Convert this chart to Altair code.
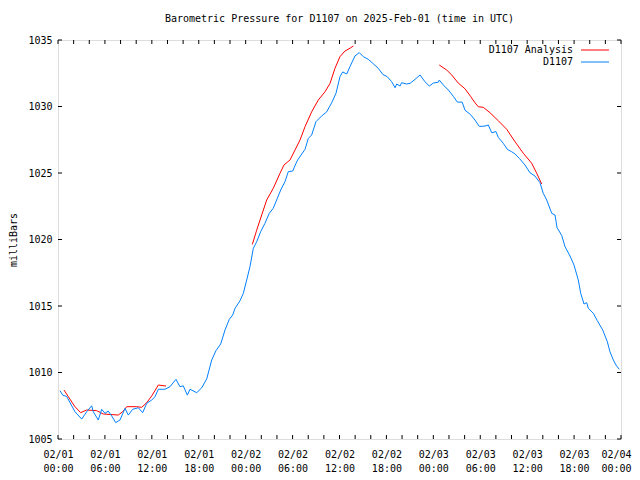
import altair as alt
import pandas as pd

# ---- data (hours since 2025-02-01 00:00 UTC, pressure in mb) ----
obs_hours = [0.26, 0.60, 1.11, 2.17, 3.03, 3.67, 4.31, 4.51, 5.15, 5.59, 6.01, 6.43, 6.87, 7.38, 7.93,
             8.57, 8.99, 9.55, 10.27, 10.83, 11.34, 11.98, 12.41, 12.83, 13.68, 14.32, 15.09, 15.60,
             16.02, 16.54, 16.88, 17.74, 18.38, 19.02, 19.66, 20.21, 20.81, 21.36, 21.91, 22.34,
             22.64, 23.28, 23.70, 24.13, 24.55, 24.98, 25.41, 25.92, 26.47, 27.02, 27.53, 28.05,
             28.48, 29.03, 29.45, 30.02, 30.44, 30.65, 31.59, 32.01, 32.44, 32.99, 33.72, 34.36,
             35.00, 35.55, 36.06, 36.41, 36.92, 37.34, 37.98, 38.53, 39.04, 39.68, 40.25, 40.96,
             41.53, 42.11, 42.68, 43.10, 43.32, 43.74, 43.95, 44.59, 45.02, 45.66, 46.30, 46.93,
             47.48, 48.00, 48.64, 48.76, 49.28, 49.92, 50.55, 51.07, 51.69, 52.05, 52.75, 53.33,
             53.88, 54.61, 55.03, 55.47, 56.01, 56.31, 56.95, 57.46, 58.02, 58.45, 59.00, 59.72,
             60.36, 61.00, 61.64, 62.06, 62.50, 63.14, 63.56, 63.82, 64.42, 64.84, 65.48, 65.99,
             66.54, 66.85, 67.27, 67.61, 67.82, 68.46, 68.97, 69.66, 70.25, 70.59, 71.02, 71.36,
             71.78]
obs_mb = [1008.63, 1008.30, 1008.20, 1007.05, 1006.50, 1007.05, 1007.50, 1007.05, 1006.43, 1007.23,
          1006.93, 1007.10, 1006.73, 1006.23, 1006.43, 1007.30, 1006.80, 1007.23, 1007.35, 1006.98,
          1007.68, 1007.93, 1008.18, 1008.74, 1008.74, 1008.93, 1009.49, 1008.93, 1009.00, 1008.30,
          1008.74, 1008.48, 1008.85, 1009.52, 1010.94, 1011.65, 1012.15, 1013.20, 1014.00, 1014.32,
          1014.82, 1015.40, 1015.95, 1016.95, 1017.95, 1019.34, 1019.83, 1020.59, 1021.22, 1021.97,
          1022.35, 1023.10, 1023.72, 1024.35, 1025.10, 1025.15, 1025.73, 1025.98, 1026.78, 1027.60,
          1027.86, 1028.86, 1029.29, 1029.60, 1030.28, 1030.99, 1032.24, 1032.60, 1032.44, 1033.00,
          1033.80, 1034.05, 1033.75, 1033.55, 1033.25, 1032.87, 1032.42, 1032.24, 1031.86, 1031.41,
          1031.69, 1031.54, 1031.79, 1031.69, 1031.74, 1032.04, 1032.37, 1031.86, 1031.54, 1031.76,
          1031.83, 1031.99, 1031.62, 1031.24, 1030.77, 1030.33, 1030.33, 1029.72, 1029.40, 1028.98,
          1028.50, 1028.53, 1028.61, 1028.03, 1028.11, 1027.68, 1027.23, 1026.78, 1026.60, 1026.43,
          1026.10, 1025.60, 1025.02, 1024.77, 1024.27, 1023.47, 1022.97, 1021.97, 1021.84, 1020.90,
          1020.30, 1019.46, 1018.76, 1018.08, 1016.95, 1015.95, 1015.15, 1015.25, 1014.83, 1014.45,
          1013.90, 1013.20, 1012.32, 1011.56, 1010.94, 1010.56, 1010.24]

ana_hours = [0.77, 1.32, 2.17, 2.90, 3.67, 4.95, 5.79, 7.71, 8.27, 8.79, 10.06, 10.70, 11.34, 11.98,
             12.83, 13.81,
             24.85, 25.41, 26.05, 26.69, 27.53, 28.39, 28.90, 29.67, 30.95, 31.59, 32.44, 33.29,
             34.15, 34.79, 35.42, 36.06, 36.70, 37.34, 37.77,
             48.76, 49.71, 50.35, 51.19, 52.05, 52.79, 53.33, 53.75, 54.39, 55.25, 56.31, 57.38,
             58.45, 59.51, 60.58, 61.22, 61.86]
ana_mb = [1008.68, 1008.18, 1007.43, 1006.98, 1007.18, 1007.13, 1006.88, 1006.80, 1007.05, 1007.43,
          1007.43, 1007.38, 1007.73, 1008.23, 1009.06, 1008.98,
          1019.63, 1020.70, 1021.84, 1022.97, 1023.85, 1024.98, 1025.60, 1025.98, 1027.48, 1028.48,
          1029.60, 1030.49, 1031.11, 1031.74, 1032.87, 1033.75, 1034.17, 1034.38, 1034.55,
          1033.12, 1032.74, 1032.37, 1031.76, 1031.33, 1030.74, 1030.28, 1029.98, 1029.94, 1029.53,
          1028.93, 1028.29, 1027.35, 1026.48, 1025.73, 1024.98, 1024.17]
ana_segment = [1] * 16 + [2] * 19 + [3] * 17

series_names = ["D1107 Analysis", "D1107"]
series_colors = ["#ff0000", "#0080ff"]

x_label_hours = list(range(0, 73, 6))
x_tick_hours = list(range(0, 73, 2))
y_ticks = [1005, 1010, 1015, 1020, 1025, 1030, 1035]

W, H = 563, 399
FONT = "DejaVu Sans Mono"

ana_df = pd.DataFrame({"hour": ana_hours, "mb": ana_mb, "seg": ana_segment, "series": series_names[0]})
obs_df = pd.DataFrame({"hour": obs_hours, "mb": obs_mb, "seg": 0, "series": series_names[1]})

xscale = alt.Scale(domain=[0, 72], nice=False, zero=False)
yscale = alt.Scale(domain=[1005, 1035], nice=False, zero=False)
color = alt.Color("series:N", scale=alt.Scale(domain=series_names, range=series_colors), legend=None)

x_axis = alt.Axis(
    values=x_label_hours, ticks=False, tickSize=0, domain=False, grid=False, title=None,
    labelExpr="['02/0' + (1 + floor(datum.value / 24)), (datum.value % 24 < 10 ? '0' : '') + (datum.value % 24) + ':00']",
    labelFont=FONT, labelFontSize=10, labelColor="black", labelPadding=10, labelLineHeight=14,
    labelOverlap=False, labelBound=False, labelFlush=False,
    labelOffset={"condition": {"test": "datum.value == 72", "value": -5}, "value": 0},
)
y_axis = alt.Axis(
    values=y_ticks, format="d", ticks=False, tickSize=0, domain=False, grid=False, title="milliBars",
    labelFont=FONT, labelFontSize=10, labelColor="black", labelPadding=6,
    titleFont=FONT, titleFontSize=10, titleFontWeight="normal", titleColor="black",
    titleAngle=270, titleX=-42, titleY=H / 2, titleAlign="center", titleBaseline="alphabetic",
)

ana = alt.Chart(ana_df).mark_line(strokeWidth=1).encode(
    x=alt.X("hour:Q", scale=xscale, axis=x_axis),
    y=alt.Y("mb:Q", scale=yscale, axis=y_axis),
    color=color,
    detail="seg:N",
)
obs = alt.Chart(obs_df).mark_line(strokeWidth=1).encode(
    x=alt.X("hour:Q", scale=xscale),
    y=alt.Y("mb:Q", scale=yscale),
    color=color,
)

xt = pd.DataFrame({"hour": x_tick_hours})
yt = pd.DataFrame({"mb": y_ticks})
tick_bottom = alt.Chart(xt).mark_rule(color="black", strokeWidth=1).encode(
    x=alt.X("hour:Q", scale=xscale), y=alt.value(H), y2=alt.value(H - 4))
tick_top = alt.Chart(xt).mark_rule(color="black", strokeWidth=1).encode(
    x=alt.X("hour:Q", scale=xscale), y=alt.value(0), y2=alt.value(4))
tick_left = alt.Chart(yt).mark_rule(color="black", strokeWidth=1).encode(
    y=alt.Y("mb:Q", scale=yscale), x=alt.value(0), x2=alt.value(4))
tick_right = alt.Chart(yt).mark_rule(color="black", strokeWidth=1).encode(
    y=alt.Y("mb:Q", scale=yscale), x=alt.value(W), x2=alt.value(W - 4))

# gnuplot-style key (text right-aligned, line sample to the right)
key_layers = []
for i, name in enumerate(series_names):
    kd = pd.DataFrame({"series": [name]})
    ky = 10 + 12 * i
    key_layers.append(alt.Chart(kd).mark_text(align="right", baseline="middle", font=FONT, fontSize=10,
                                              color="black").encode(
        text="series:N", x=alt.value(515), y=alt.value(ky)))
    key_layers.append(alt.Chart(kd).mark_rule(strokeWidth=1, color=series_colors[i]).encode(
        x=alt.value(523), x2=alt.value(551), y=alt.value(ky)))

chart = alt.layer(ana, obs, tick_bottom, tick_top, tick_left, tick_right, *key_layers).properties(
    width=W, height=H,
    title=alt.Title("Barometric Pressure for D1107 on 2025-Feb-01 (time in UTC)",
                    font=FONT, fontSize=10, fontWeight="normal", color="black", anchor="middle", offset=11),
    autosize=alt.AutoSizeParams(type="none"),
    padding={"left": 50, "top": 32, "right": 11, "bottom": 34},
).configure_view(stroke="black", strokeWidth=1).configure(background="white")

chart.save("out.html", embed_options={"renderer": "svg", "actions": False})
